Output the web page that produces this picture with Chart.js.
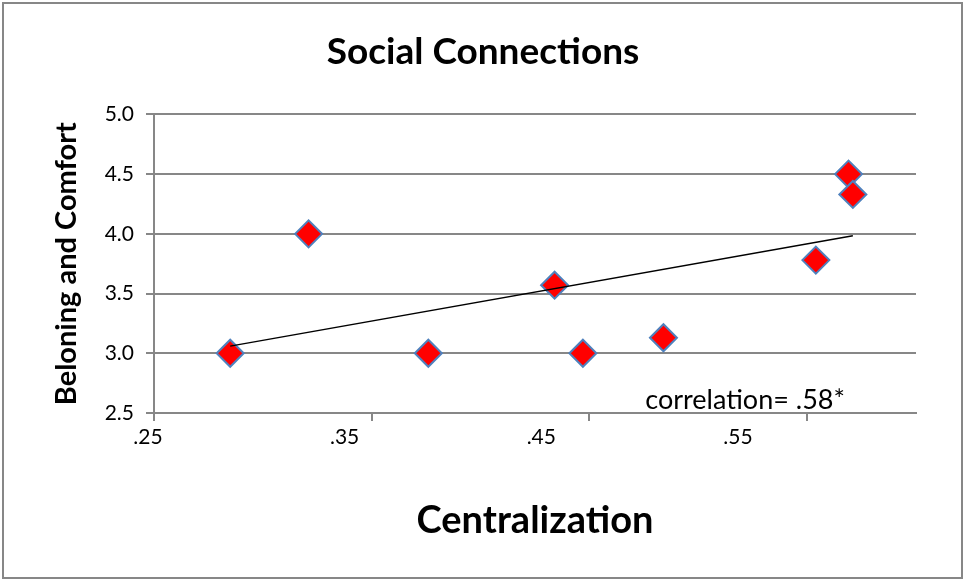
<!DOCTYPE html>
<html>
<head>
<meta charset="utf-8">
<style>
  html, body { margin: 0; padding: 0; background: #fff; }
  #wrap { width: 966px; height: 581px; }
</style>
</head>
<body>
<div id="wrap">
  <canvas id="myChart" width="966" height="581"></canvas>
</div>
<script src="https://cdn.jsdelivr.net/npm/chart.js"></script>
<script>

// one point per group: network centralization vs. belonging/comfort score
var centralization = [0.285, 0.321, 0.376, 0.434, 0.447, 0.484, 0.554, 0.569, 0.571];
var belonging = [3.00, 4.00, 3.00, 3.57, 3.00, 3.13, 3.78, 4.50, 4.33];

var xTickValues = [0.25, 0.35, 0.45, 0.55];
var yTickValues = [2.5, 3.0, 3.5, 4.0, 4.5, 5.0];

var FONT = 'Lato, "Open Sans", sans-serif';
var GRID = '#878787';

// least squares fit + pearson r
function linearFit(xs, ys) {
  var n = xs.length, mx = 0, my = 0;
  for (var i = 0; i < n; i++) { mx += xs[i]; my += ys[i]; }
  mx /= n; my /= n;
  var sxy = 0, sxx = 0, syy = 0;
  for (var j = 0; j < n; j++) {
    var dx = xs[j] - mx, dy = ys[j] - my;
    sxy += dx * dy; sxx += dx * dx; syy += dy * dy;
  }
  var slope = sxy / sxx;
  return { slope: slope, intercept: my - slope * mx, r: sxy / Math.sqrt(sxx * syy) };
}

var fit = linearFit(centralization, belonging);
var xMin = Math.min.apply(null, centralization);
var xMax = Math.max.apply(null, centralization);
var trend = [xMin, xMax].map(function(x) { return { x: x, y: fit.intercept + fit.slope * x } });
var points = centralization.map(function(x, i) { return { x: x, y: belonging[i] } });
var rText = fit.r.toFixed(2).replace(/^0/, '');

function fixedTicks(values) {
  return function(scale) {
    scale.ticks = values.map(function(v) { return { value: v } });
  };
}

const frame = {
  id: 'frame',
  beforeDraw(chart) {
    const ctx = chart.ctx;
    ctx.save();
    ctx.fillStyle = '#fff';
    ctx.fillRect(0, 0, chart.width, chart.height);
    ctx.strokeStyle = GRID;
    ctx.lineWidth = 2;
    ctx.strokeRect(3, 3, chart.width - 7, chart.height - 6);
    ctx.restore();
  }
};

const corrNote = {
  id: 'corrNote',
  afterDatasetsDraw(chart) {
    const ctx = chart.ctx, x = chart.scales.x, y = chart.scales.y;
    ctx.save();
    ctx.font = '27px ' + FONT;
    ctx.fillStyle = '#000';
    ctx.textAlign = 'center';
    ctx.textBaseline = 'middle';
    ctx.fillText('correlation= ' + rText + '*', x.getPixelForValue(0.5215), y.getPixelForValue(2.61));
    ctx.restore();
  }
};

const config = {
  type: 'scatter',
  data: {
    datasets: [
      {
        label: 'trend',
        data: trend,
        showLine: true,
        borderColor: '#000',
        borderWidth: 1.5,
        pointRadius: 0,
        xAxisID: 'x',
        order: 0
      },
      {
        label: 'groups',
        data: points,
        pointStyle: 'rectRot',
        pointRadius: 13.5,
        pointBackgroundColor: '#ff0000',
        pointBorderColor: '#4f81bd',
        pointBorderWidth: 2,
        xAxisID: 'x',
        order: 1
      }
    ]
  },
  options: {
    responsive: false,
    animation: false,
    devicePixelRatio: 1,
    layout: { padding: { left: 0, right: 0, top: 0, bottom: 37 } },
    plugins: {
      legend: { display: false },
      tooltip: { enabled: false },
      title: {
        display: true,
        text: 'Social Connections',
        color: '#000',
        font: { family: FONT, size: 37, weight: 'bold' },
        padding: { top: 30, bottom: 40 }
      }
    },
    scales: {
      x: {
        type: 'linear',
        position: 'bottom',
        min: 0.25,
        max: 0.60,
        afterBuildTicks: fixedTicks(xTickValues),
        ticks: { display: false },
        grid: { drawOnChartArea: false, color: GRID, lineWidth: 2, tickLength: 8 },
        border: { color: GRID, width: 2 },
        afterFit: function(s) { s.height = 8; }
      },
      // label row under the axis
      xLabels: {
        type: 'linear',
        position: 'bottom',
        min: 0.2531,
        max: 0.6405,
        afterBuildTicks: fixedTicks(xTickValues),
        ticks: {
          color: '#000',
          font: { family: FONT, size: 21 },
          padding: 4,
          maxRotation: 0,
          autoSkip: false,
          callback: function(v) { return v.toFixed(2).replace(/^0/, ''); }
        },
        grid: { display: false, drawTicks: false },
        border: { display: false },
        title: {
          display: true,
          text: 'Centralization',
          color: '#000',
          font: { family: FONT, size: 38, weight: 'bold' },
          padding: { top: 0, bottom: 0 }
        },
        afterFit: function(s) { s.height = 123; }
      },
      y: {
        type: 'linear',
        min: 2.5,
        max: 5.0,
        afterBuildTicks: fixedTicks(yTickValues),
        ticks: {
          color: '#000',
          font: { family: FONT, size: 21 },
          padding: 12,
          callback: function(v) { return v.toFixed(1); }
        },
        grid: { color: GRID, lineWidth: 2, tickLength: 8 },
        border: { color: GRID, width: 2 },
        title: {
          display: true,
          text: 'Beloning and Comfort',
          color: '#000',
          font: { family: FONT, size: 29, weight: 'bold' },
          padding: { top: 49, bottom: 0 }
        },
        afterFit: function(s) { s.width = 154; }
      },
      // empty strip on the right so the title centres on the whole frame
      yRight: {
        type: 'linear',
        position: 'right',
        display: true,
        ticks: { display: false },
        grid: { display: false, drawTicks: false },
        border: { display: false },
        afterFit: function(s) { s.width = 50; }
      }
    }
  },
  plugins: [frame, corrNote]
};

var chart = new Chart('myChart', config);

</script>
</body>
</html>
